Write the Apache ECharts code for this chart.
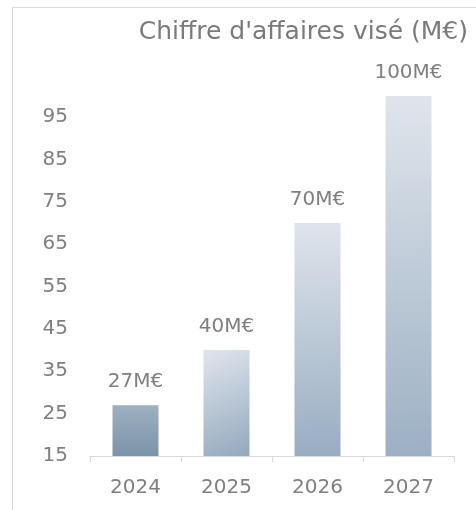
<!DOCTYPE html>
<html>
<head>
<meta charset="utf-8">
<script src="https://cdn.jsdelivr.net/npm/echarts@6/dist/echarts.min.js"></script>
<style>
  html, body { margin: 0; padding: 0; background: #fff; }
  #frame {
    position: absolute; left: 12px; top: 7px; width: 600px; height: 600px;
    border-left: 1px solid #d9d9d9; border-top: 1px solid #d9d9d9;
  }
  #main { position: absolute; left: 0; top: 0; width: 476px; height: 510px; }
</style>
</head>
<body>
<div id="frame"></div>
<div id="main"></div>
<script>
const titleText = "Chiffre d'affaires visé (M€)";
const years = ["2024", "2025", "2026", "2027"];
const revenue = [27, 40, 70, 100];
const barLabels = ["27M€", "40M€", "70M€", "100M€"];

// fills, one per bar
const fills = [
  { from: "#9eb0c0", to: "#7b93a9", x2: 0, y2: 1 },
  { from: "#e0e5ec", to: "#93a8be", x2: 1, y2: 1 },
  { from: "#dfe4eb", to: "#98adc2", x2: 0.25, y2: 1 },
  { from: "#e0e5eb", to: "#9cb0c4", x2: 0.2, y2: 1 }
];

const textColor = "#7f7f7f";
const fontFamily = "DejaVu Sans";

const chart = echarts.init(document.getElementById("main"));

const barData = revenue.map((v, i) => ({
  value: v,
  itemStyle: {
    color: new echarts.graphic.LinearGradient(0, 0, fills[i].x2, fills[i].y2, [
      { offset: 0, color: fills[i].from },
      { offset: 1, color: fills[i].to }
    ])
  }
}));

const option = {
  animation: false,
  title: {
    text: titleText,
    right: 3,
    top: 15,
    textStyle: { color: "#7a7a7a", fontSize: 25, fontWeight: "normal", fontFamily: fontFamily }
  },
  grid: { left: 90, right: 22, top: 96, bottom: 54 },
  xAxis: {
    type: "category",
    data: years,
    axisLine: { lineStyle: { color: "#d9d9d9", width: 1 } },
    axisTick: { show: true, length: 6, lineStyle: { color: "#d9d9d9" } },
    axisLabel: { color: textColor, fontSize: 20, fontFamily: fontFamily, margin: 22 }
  },
  yAxis: {
    type: "value",
    min: 15,
    max: 100,
    interval: 10,
    splitLine: { show: false },
    axisLine: { show: false },
    axisTick: { show: false },
    axisLabel: { color: textColor, fontSize: 20, fontFamily: fontFamily, margin: 22, showMaxLabel: false }
  },
  series: [{
    type: "bar",
    barWidth: 46,
    data: barData,
    label: {
      show: true,
      position: "top",
      distance: 13,
      color: textColor,
      fontSize: 20,
      fontFamily: fontFamily,
      formatter: p => barLabels[p.dataIndex]
    }
  }]
};
chart.setOption(option);
</script>
</body>
</html>
